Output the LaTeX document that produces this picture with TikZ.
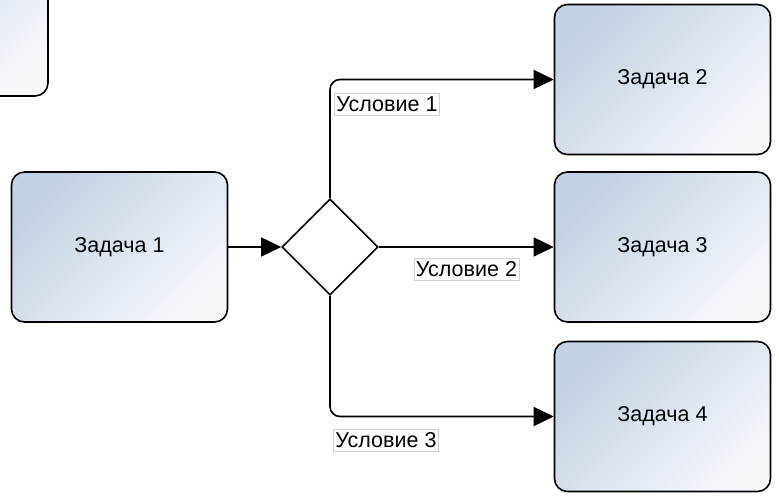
\documentclass[tikz,border=0pt]{standalone}
\usepackage{fontspec}
\setmainfont{Liberation Sans}
\usetikzlibrary{arrows.meta,shapes.geometric}

\definecolor{taskdark}{RGB}{194,209,227}
\definecolor{tasklight}{RGB}{246,248,252}

\tikzset{
	task/.style={draw=black, line width=1.6pt, rounded corners=13pt,
		minimum width=216pt, minimum height=150pt,
		top color=taskdark, bottom color=tasklight, shading angle=45,
		font=\fontsize{21.5pt}{25pt}\selectfont},
	gate/.style={draw=black, line width=1.6pt, fill=white, diamond,
		minimum width=96pt, minimum height=96pt, inner sep=0pt},
	cond/.style={draw=black!18, fill=white, line width=0.6pt,
		inner xsep=2pt, inner ysep=3.5pt,
		font=\fontsize{21.5pt}{25pt}\selectfont},
	flow/.style={line width=1.6pt, -{Triangle[length=20pt,width=19pt]}}
}

\begin{document}
\begin{tikzpicture}[x=1pt,y=-1pt]
\useasboundingbox (0,0) rectangle (779,497);
\begin{scope}
\clip (0,0) rectangle (779,497);
\node[task] (t0) at (-60,21) {};
\end{scope}

\node[task] (t1) at (119.5,247) {Задача 1};
\node[gate] (g) at (330,247) {};
\node[task] (t2) at (662.5,79.5) {Задача 2};
\node[task] (t3) at (662.5,247) {Задача 3};
\node[task] (t4) at (662.5,416.5) {Задача 4};

\draw[flow] (t1.east) -- (g.west);
\draw[flow, rounded corners=10pt] (g.north) |- (t2.west);
\draw[flow] (g.east) -- (t3.west);
\draw[flow, rounded corners=10pt] (g.south) |- (t4.west);

\node[cond] (c1) at (387,104.5) {Условие 1};
\node[cond] (c2) at (466.5,269) {Условие 2};
\node[cond] (c3) at (386,440) {Условие 3};
\end{tikzpicture}
\end{document}
